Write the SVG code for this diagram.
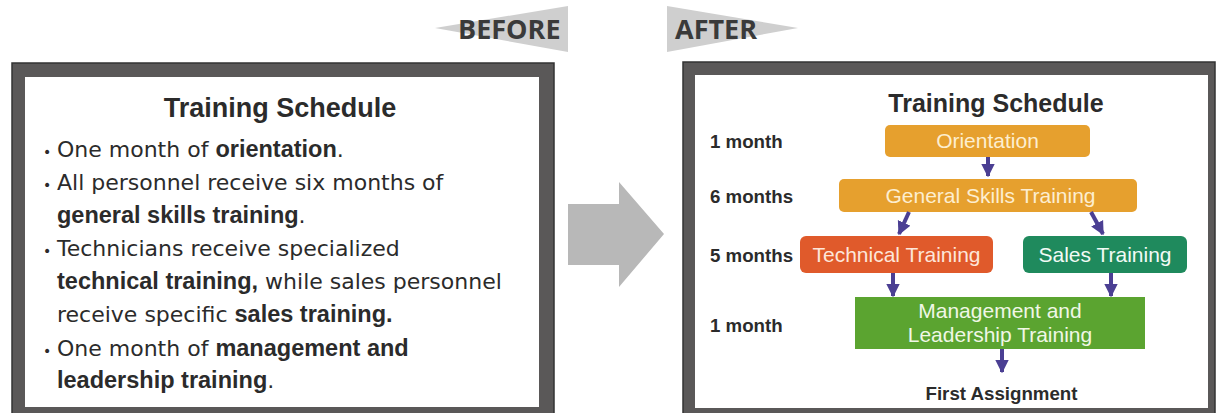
<svg xmlns="http://www.w3.org/2000/svg" width="1217" height="413" viewBox="0 0 1217 413">
<defs>
<style>
.frame{fill:#5a5858;stroke:#333;stroke-width:1.5}
.inner{fill:#ffffff}
.ban{fill:#cfcfcf}
.bantxt{font-family:"Open Sans",sans-serif;font-weight:bold;font-size:27px;fill:#3a3a3a}
.ltxt{font-family:"DejaVu Sans",sans-serif;font-size:22px;fill:#2b2b2b}
.b{font-family:"Liberation Sans",Arial,sans-serif;font-weight:bold;font-size:23.5px}
.dot{font-size:14px}
.rttl{font-family:"Liberation Sans",Arial,sans-serif;font-weight:bold;font-size:25px;fill:#2b2b2b}
.lab{font-family:"Liberation Sans",Arial,sans-serif;font-weight:bold;font-size:18.7px;fill:#2b2b2b}
.btxt{font-family:"Liberation Sans",Arial,sans-serif;font-size:21px;text-anchor:middle}
.conn{stroke:#4b3f93;stroke-width:4;fill:none}
</style>
<marker id="ah" viewBox="0 0 10 10" refX="9" refY="5" markerWidth="3.4" markerHeight="3.6" orient="auto" markerUnits="strokeWidth">
<path d="M0,0 L10,5 L0,10 z" fill="#4b3f93"/>
</marker>
</defs>
<rect width="1217" height="413" fill="#ffffff"/>

<g id="before-banner">
<polygon class="ban" points="435,28 568,6 568,52"/>
<text class="bantxt" x="458" y="39">BEFORE</text>
</g>
<g id="after-banner">
<polygon class="ban" points="667,6 667,52 798,28"/>
<text class="bantxt" x="675" y="39">AFTER</text>
</g>

<g id="before-box">
<rect class="frame" x="12" y="63" width="542" height="356"/>
<rect class="inner" x="25" y="77" width="514" height="330"/>
<text x="280" y="117" text-anchor="middle" font-family="Liberation Sans, Arial, sans-serif" font-weight="bold" font-size="27" fill="#2b2b2b">Training Schedule</text>
<g class="ltxt">
<text x="43" y="157"><tspan class="dot">•</tspan></text>
<text x="57" y="157">One month of <tspan class="b">orientation</tspan>.</text>
<text x="43" y="190"><tspan class="dot">•</tspan></text>
<text x="57" y="190">All personnel receive six months of</text>
<text x="57" y="223"><tspan class="b">general skills training</tspan>.</text>
<text x="43" y="256"><tspan class="dot">•</tspan></text>
<text x="57" y="256">Technicians receive specialized</text>
<text x="57" y="289"><tspan class="b">technical training,</tspan> while sales personnel</text>
<text x="57" y="322">receive specific <tspan class="b">sales training.</tspan></text>
<text x="43" y="356"><tspan class="dot">•</tspan></text>
<text x="57" y="356">One month of <tspan class="b">management and</tspan></text>
<text x="57" y="388"><tspan class="b">leadership training</tspan>.</text>
</g>
</g>

<g id="big-arrow">
<polygon points="568,204 619,204 619,182 664,234 619,287 619,265 568,265" fill="#b8b8b8"/>
</g>

<g id="after-box">
<rect class="frame" x="683" y="62" width="532" height="357"/>
<rect class="inner" x="695" y="75" width="513" height="333"/>
<text class="rttl" x="996" y="112" text-anchor="middle">Training Schedule</text>
</g>

<g id="labels">
<text class="lab" x="710" y="148">1 month</text>
<text class="lab" x="710" y="203">6 months</text>
<text class="lab" x="710" y="262">5 months</text>
<text class="lab" x="710" y="332">1 month</text>
</g>

<g id="orientation">
<rect x="885" y="125" width="205" height="32" rx="5" fill="#e6a02e"/>
<text class="btxt" x="987.5" y="148" fill="#fdeed0">Orientation</text>
</g>
<g id="general">
<rect x="839" y="179" width="298" height="33" rx="5" fill="#e6a02e"/>
<text class="btxt" x="990.5" y="203" fill="#fdeed0">General Skills Training</text>
</g>
<g id="technical">
<rect x="800" y="236" width="193" height="37" rx="6" fill="#e05a2b"/>
<text class="btxt" x="896.5" y="262" fill="#fde6da">Technical Training</text>
</g>
<g id="sales">
<rect x="1023" y="236" width="164" height="37" rx="6" fill="#1f8a5d"/>
<text class="btxt" x="1105" y="262" fill="#f2faf5">Sales Training</text>
</g>
<g id="management">
<rect x="855" y="297" width="290" height="52" fill="#5ba430"/>
<text class="btxt" x="1000" y="318" fill="#f0f7e6">Management and</text>
<text class="btxt" x="1000" y="342" fill="#f0f7e6">Leadership Training</text>
</g>
<g id="first-assignment">
<text class="lab" x="1001.5" y="400" text-anchor="middle">First Assignment</text>
</g>

<g id="connectors">
<line class="conn" x1="988" y1="157" x2="988" y2="176" marker-end="url(#ah)"/>
<line class="conn" x1="909" y1="212" x2="899" y2="234" marker-end="url(#ah)"/>
<line class="conn" x1="1091" y1="212" x2="1103" y2="234" marker-end="url(#ah)"/>
<line class="conn" x1="893" y1="273" x2="893" y2="296" marker-end="url(#ah)"/>
<line class="conn" x1="1111" y1="273" x2="1111" y2="296" marker-end="url(#ah)"/>
<line class="conn" x1="1002" y1="349" x2="1002" y2="372" marker-end="url(#ah)"/>
</g>
</svg>
